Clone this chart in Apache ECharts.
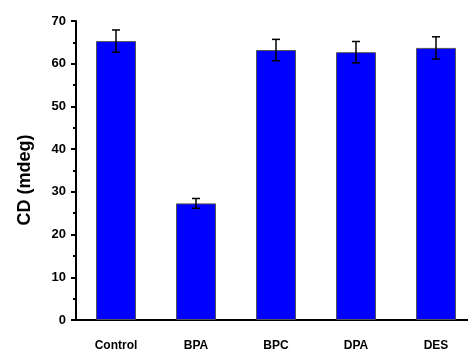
<!DOCTYPE html>
<html><head><meta charset="utf-8">
<script src="https://cdn.jsdelivr.net/npm/echarts@6/dist/echarts.min.js"></script>
<style>html,body{margin:0;padding:0;background:#fff;overflow:hidden}#c{width:480px;height:353px}</style>
</head><body><div id="c"></div>
<script>
const categories = ['Control', 'BPA', 'BPC', 'DPA', 'DES'];
const values = [65.3, 27.3, 63.2, 62.7, 63.7];
const errors = [2.6, 1.15, 2.5, 2.5, 2.6];
const yTicks = {min: 0, max: 70, interval: 10};
const yTitle = 'CD (mdeg)';

const chart = echarts.init(document.getElementById('c'), null, {renderer: 'canvas'});
const font = 'Liberation Sans, Arial, sans-serif';
chart.setOption({
  animation: false,
  grid: {left: 76, top: 21, bottom: 33, width: 400},
  graphic: [{
    type: 'text', x: 25, y: 180, rotation: Math.PI / 2,
    style: {text: yTitle, fill: '#000', font: 'bold 18px ' + font, align: 'center', verticalAlign: 'middle'}
  }],
  xAxis: [{
    type: 'category', data: categories,
    axisLine: {lineStyle: {color: '#000', width: 2}},
    axisTick: {alignWithLabel: true, length: 5, lineStyle: {color: '#000', width: 2}},
    axisLabel: {color: '#000', fontWeight: 'bold', fontSize: 12, fontFamily: font, margin: 20}
  }, {
    type: 'category', data: categories, position: 'bottom',
    axisLine: {show: false},
    axisTick: {alignWithLabel: false, length: 3, lineStyle: {color: '#000', width: 2}},
    axisLabel: {show: false}
  }],
  yAxis: {
    type: 'value', min: yTicks.min, max: yTicks.max, interval: yTicks.interval,
    axisLine: {show: true, lineStyle: {color: '#000', width: 2}},
    axisTick: {show: true, length: 5, lineStyle: {color: '#000', width: 2}},
    minorTick: {show: true, splitNumber: 2, length: 3, lineStyle: {color: '#000', width: 2}},
    splitLine: {show: false},
    axisLabel: {color: '#000', fontWeight: 'bold', fontSize: 13, fontFamily: font, margin: 10}
  },
  series: [{
    type: 'bar', data: values, barWidth: '50%',
    itemStyle: {color: '#0000FF', borderColor: '#555', borderWidth: 1}
  }, {
    type: 'custom',
    data: values.map((v, i) => [i, v - errors[i], v + errors[i]]),
    renderItem: function (params, api) {
      const lo = api.coord([api.value(0), api.value(1)]);
      const hi = api.coord([api.value(0), api.value(2)]);
      const hw = 4;
      const st = {stroke: '#000', lineWidth: 1.5};
      return {type: 'group', children: [
        {type: 'line', shape: {x1: lo[0], y1: lo[1], x2: hi[0], y2: hi[1]}, style: st},
        {type: 'line', shape: {x1: lo[0] - hw, y1: lo[1], x2: lo[0] + hw, y2: lo[1]}, style: st},
        {type: 'line', shape: {x1: hi[0] - hw, y1: hi[1], x2: hi[0] + hw, y2: hi[1]}, style: st}
      ]};
    },
    z: 10
  }]
});
</script></body></html>
